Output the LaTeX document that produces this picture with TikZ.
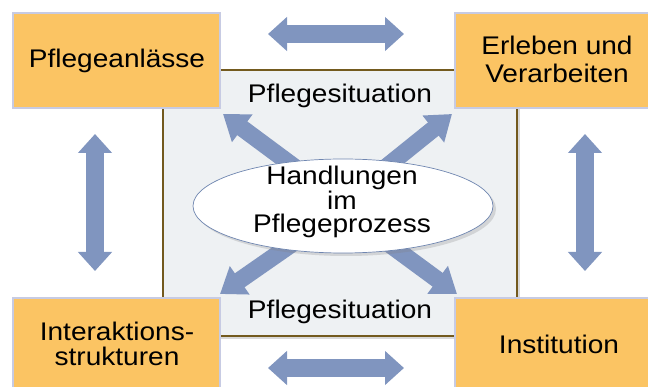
\documentclass[tikz,border=0pt]{standalone}
\usepackage{fontspec}
\setmainfont{Liberation Sans}[FakeStretch=1.1]
\usetikzlibrary{arrows.meta,shapes.geometric,shadows}
\definecolor{boxfill}{HTML}{FBC463}
\definecolor{boxline}{HTML}{C7CBE3}
\definecolor{arrowc}{HTML}{8095BF}
\definecolor{areafill}{HTML}{EEF1F3}
\definecolor{arealine}{HTML}{735A1E}
\definecolor{ellline}{HTML}{6F86B0}
\tikzset{
  orangebox/.style={draw=boxline, line width=1.5pt, fill=boxfill},
  lbl/.style={font=\fontsize{25.5}{27}\selectfont, align=center, inner sep=0pt, text=black},
  bigarrow/.style={draw=arrowc, line width=18pt, {Triangle[length=19pt,width=33pt]}-{Triangle[length=19pt,width=33pt]}, shorten <=0pt, shorten >=0pt},
  diagarrow/.style={draw=arrowc, line width=17pt, -{Triangle[length=24pt,width=33pt]}},
}
\begin{document}
\begin{tikzpicture}[x=1pt,y=-1pt]
\useasboundingbox (0,0) rectangle (648,387);
% central area
\path[draw=arealine, line width=2pt, fill=areafill, drop shadow={shadow xshift=3pt, shadow yshift=-3pt, opacity=0.3}] (163,70) rectangle (517,336);
\coordinate (sitTop) at (340,96);
\coordinate (sitBot) at (340,312);
% diagonal arrows
\coordinate (ulTail) at (312,180);
\coordinate (ulTip) at (223,114);
\coordinate (urTail) at (370,180);
\coordinate (urTip) at (452,114);
\coordinate (dlTail) at (312,230);
\coordinate (dlTip) at (220,294);
\coordinate (drTail) at (370,230);
\coordinate (drTip) at (457,294);
\draw[diagarrow] (ulTail) -- (ulTip);
\draw[diagarrow] (urTail) -- (urTip);
\draw[diagarrow] (dlTail) -- (dlTip);
\draw[diagarrow] (drTail) -- (drTip);
% ellipse
\node[ellipse, draw=ellline, line width=0.7pt, fill=white, minimum width=300pt, minimum height=94pt, inner sep=0pt, drop shadow={shadow xshift=3pt, shadow yshift=-3pt, opacity=0.25}] (hand) at (343,206) {};
\node[lbl, font=\fontsize{25.5}{22.5}\selectfont] (handtxt) at (342,202) {Handlungen\\im\\Pflegeprozess};
% boxes
\path[orangebox] (13,13) rectangle (220,108);
\path[orangebox] (455,13) rectangle (652,108);
\path[orangebox] (13,298) rectangle (220,392);
\path[orangebox] (455,298) rectangle (652,392);
\node[lbl] (anl) at (117,61) {Pflegeanlässe};
\node[lbl, font=\fontsize{25.5}{28}\selectfont] (erl) at (557,59) {Erleben und\\Verarbeiten};
\node[lbl, font=\fontsize{25.5}{25}\selectfont] (inter) at (117,343.5) {Interaktions-\\strukturen};
\node[lbl] (inst) at (559,344) {Institution};
\node[lbl] (pst) at (sitTop) {Pflegesituation};
\node[lbl] (psb) at (sitBot) {Pflegesituation};
% straight double arrows
\coordinate (tL) at (268,34);
\coordinate (tR) at (404,34);
\coordinate (bL) at (268,368);
\coordinate (bR) at (404,368);
\coordinate (lT) at (95,134);
\coordinate (lB) at (95,271);
\coordinate (rT) at (585,134);
\coordinate (rB) at (585,271);
\draw[bigarrow] (tL) -- (tR);
\draw[bigarrow] (bL) -- (bR);
\draw[bigarrow] (lT) -- (lB);
\draw[bigarrow] (rT) -- (rB);
\end{tikzpicture}
\end{document}
